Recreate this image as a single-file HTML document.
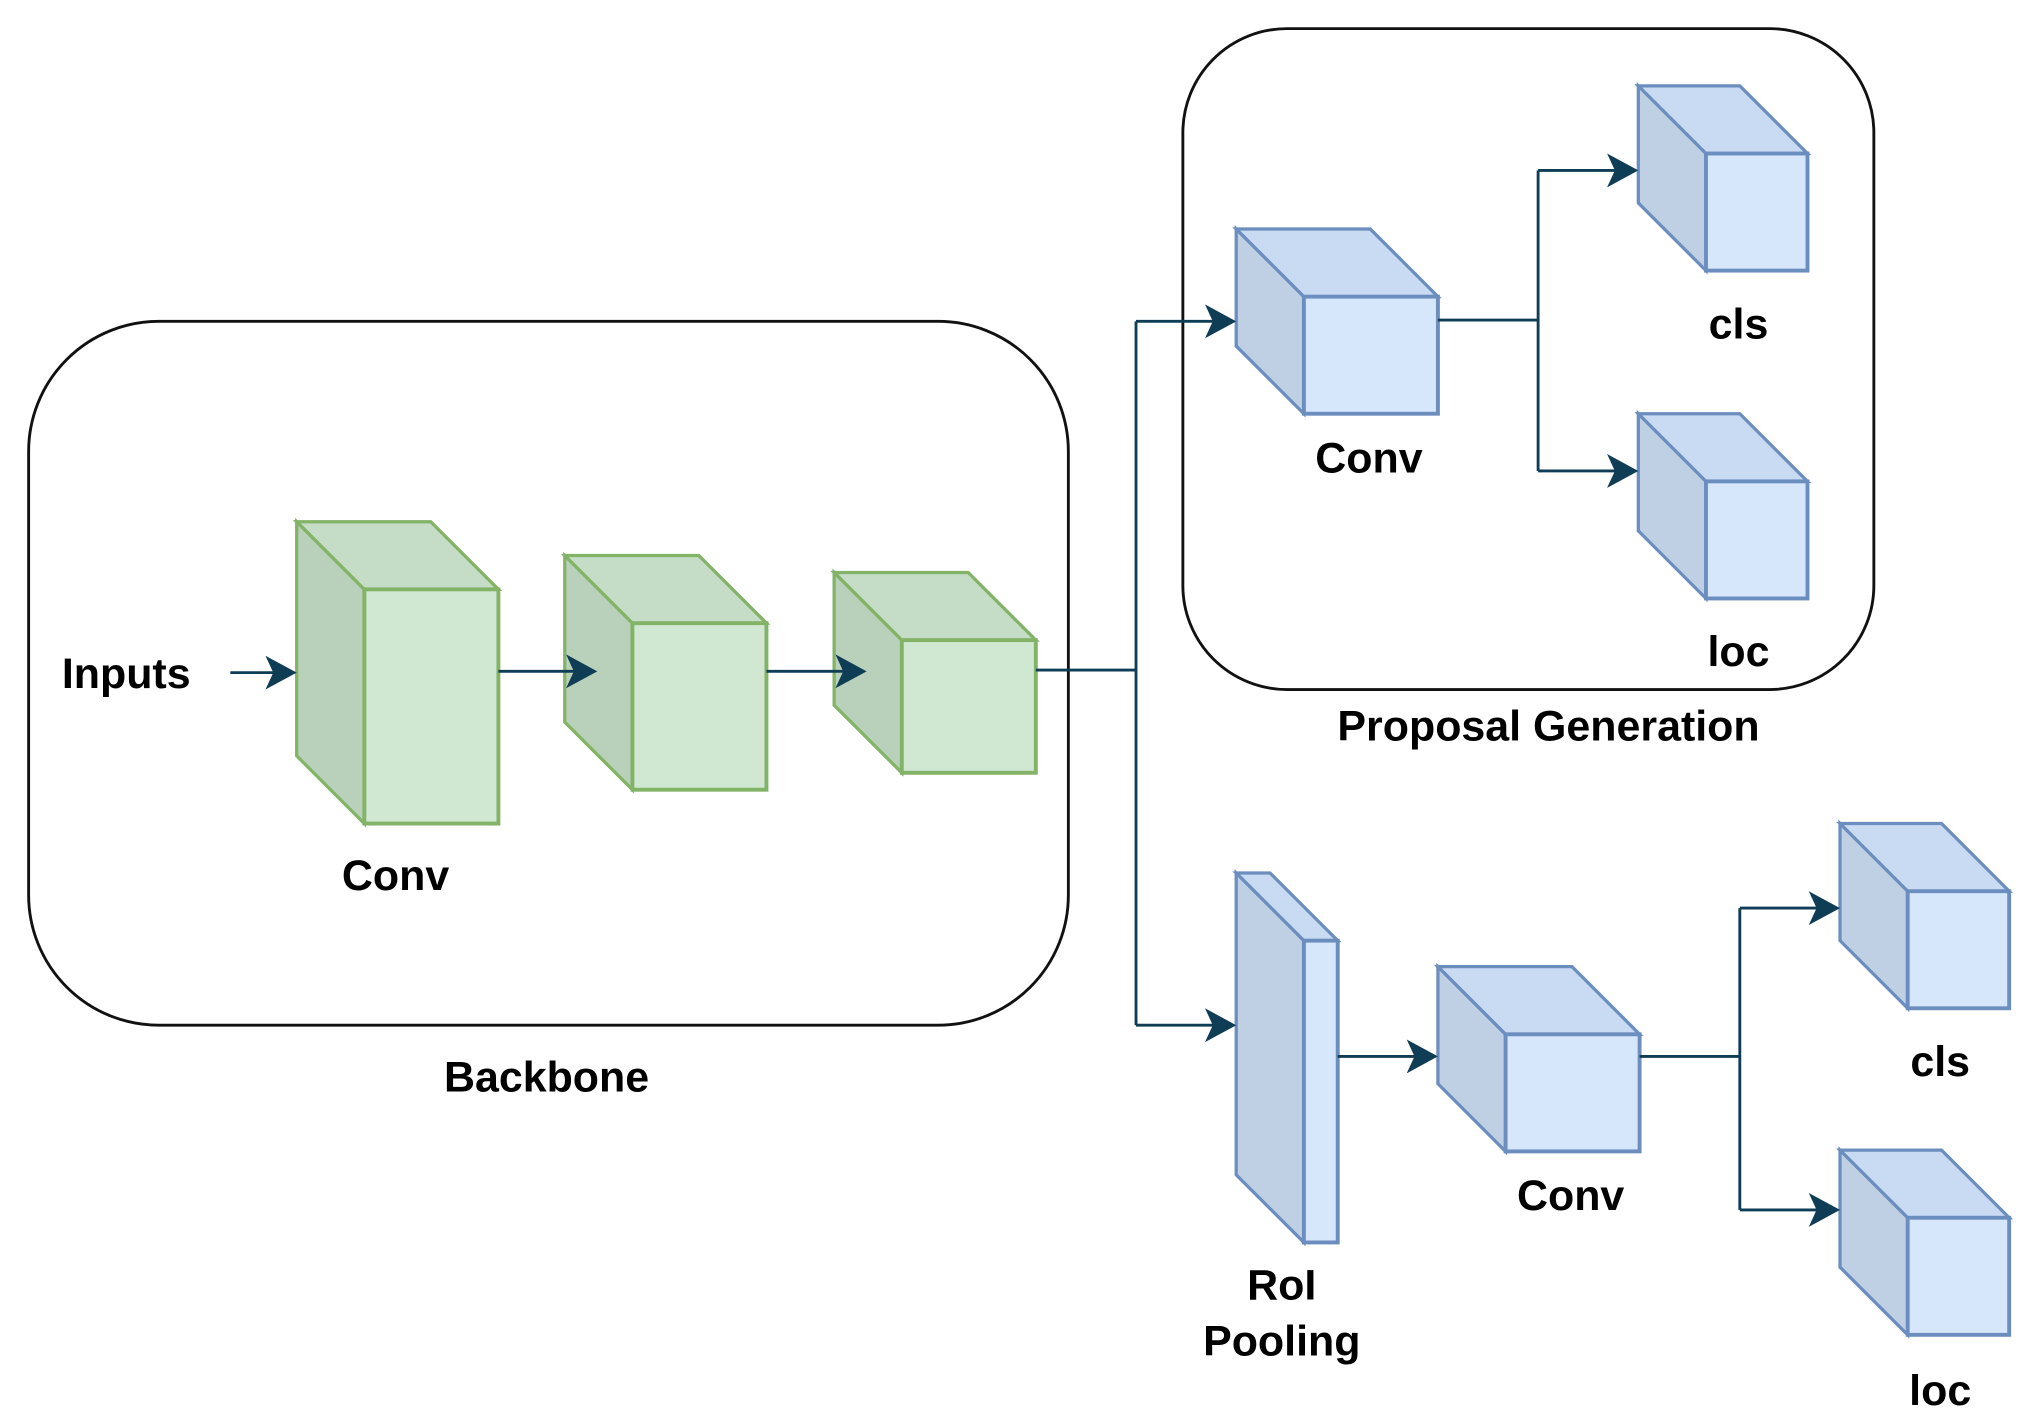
<!DOCTYPE html>
<html><head><style>html,body{margin:0;padding:0;background:#fff;}svg{display:block;}</style></head>
<body>
<svg width="2030" height="1422" viewBox="0 0 1560 1093" preserveAspectRatio="none" xmlns="http://www.w3.org/2000/svg">
<style>
text{font-family:"Liberation Sans",Arial,sans-serif;font-weight:bold;font-size:33px;fill:#000;}
.ln{stroke:#0f3d55;stroke-width:2.2;fill:none;}
.bx{stroke:#111;stroke-width:2.2;fill:none;}
.g .f{fill:#d0e8d2;stroke:#82b366;stroke-width:3}
.g .l{fill:#b9d1ba;stroke:#82b366;stroke-width:2.5}
.g .t{fill:#c5ddc6;stroke:#82b366;stroke-width:2.5}
.b .f{fill:#d6e7fb;stroke:#6c8ebf;stroke-width:3}
.b .l{fill:#c0d0e4;stroke:#6c8ebf;stroke-width:2.5}
.b .t{fill:#c9dbf2;stroke:#6c8ebf;stroke-width:2.5}
.ah{fill:#0f3d55;}
</style>
<rect class="bx" x="22" y="247" width="799" height="541" rx="100"/>
<rect class="bx" x="909" y="22" width="531" height="508" rx="80"/>

<!-- green cubes -->
<g class="g">
<polygon class="l" points="228,401 280,453 280,633 228,581"/><polygon class="t" points="228,401 331,401 383,453 280,453"/><rect class="f" x="280" y="453" width="103" height="180"/>
<polygon class="l" points="434,427 486,479 486,607 434,555"/><polygon class="t" points="434,427 537,427 589,479 486,479"/><rect class="f" x="486" y="479" width="103" height="128"/>
<polygon class="l" points="641,440 693,492 693,594 641,542"/><polygon class="t" points="641,440 744,440 796,492 693,492"/><rect class="f" x="693" y="492" width="103" height="102"/>
</g>
<!-- blue cubes -->
<g class="b">
<polygon class="l" points="950,176 1002,228 1002,318 950,266"/><polygon class="t" points="950,176 1053,176 1105,228 1002,228"/><rect class="f" x="1002" y="228" width="103" height="90"/>
<polygon class="l" points="1259,66 1311,118 1311,208 1259,156"/><polygon class="t" points="1259,66 1337,66 1389,118 1311,118"/><rect class="f" x="1311" y="118" width="78" height="90"/>
<polygon class="l" points="1259,318 1311,370 1311,460 1259,408"/><polygon class="t" points="1259,318 1337,318 1389,370 1311,370"/><rect class="f" x="1311" y="370" width="78" height="90"/>
<polygon class="l" points="950,671 1002,723 1002,955 950,903"/><polygon class="t" points="950,671 976,671 1028,723 1002,723"/><rect class="f" x="1002" y="723" width="26" height="232"/>
<polygon class="l" points="1105,743 1157,795 1157,885 1105,833"/><polygon class="t" points="1105,743 1208,743 1260,795 1157,795"/><rect class="f" x="1157" y="795" width="103" height="90"/>
<polygon class="l" points="1414,633 1466,685 1466,775 1414,723"/><polygon class="t" points="1414,633 1492,633 1544,685 1466,685"/><rect class="f" x="1466" y="685" width="78" height="90"/>
<polygon class="l" points="1414,884 1466,936 1466,1026 1414,974"/><polygon class="t" points="1414,884 1492,884 1544,936 1466,936"/><rect class="f" x="1466" y="936" width="78" height="90"/>
</g>

<!-- connectors -->
<path class="ln" d="M177 517H222 M383 516H453 M589 516H660 M796 515H873 M873 247V788 M873 247H944 M873 788H944 M1105 246H1182 M1182 131V362 M1182 131H1253 M1182 362H1253 M1028 812H1099 M1260 812H1337 M1337 698V930 M1337 698H1408 M1337 930H1408"/>
<g class="ah">
<path d="M228 517l-24 -13l6 13l-6 13z"/>
<path d="M459 516l-24 -13l6 13l-6 13z"/>
<path d="M666 516l-24 -13l6 13l-6 13z"/>
<path d="M950 247l-24 -13l6 13l-6 13z"/>
<path d="M950 788l-24 -13l6 13l-6 13z"/>
<path d="M1259 131l-24 -13l6 13l-6 13z"/>
<path d="M1259 362l-24 -13l6 13l-6 13z"/>
<path d="M1105 812l-24 -13l6 13l-6 13z"/>
<path d="M1414 698l-24 -13l6 13l-6 13z"/>
<path d="M1414 930l-24 -13l6 13l-6 13z"/>
</g>

<text x="97" y="529" text-anchor="middle">Inputs</text>
<text x="304" y="684" text-anchor="middle">Conv</text>
<text x="420" y="839" text-anchor="middle">Backbone</text>
<text x="1052" y="363" text-anchor="middle">Conv</text>
<text x="1336" y="260" text-anchor="middle">cls</text>
<text x="1336" y="512" text-anchor="middle">loc</text>
<text x="1190" y="569" text-anchor="middle">Proposal Generation</text>
<text x="985" y="999" text-anchor="middle">RoI</text>
<text x="985" y="1042" text-anchor="middle">Pooling</text>
<text x="1207" y="930" text-anchor="middle">Conv</text>
<text x="1491" y="827" text-anchor="middle">cls</text>
<text x="1491" y="1080" text-anchor="middle">loc</text>
</svg>
</body></html>
